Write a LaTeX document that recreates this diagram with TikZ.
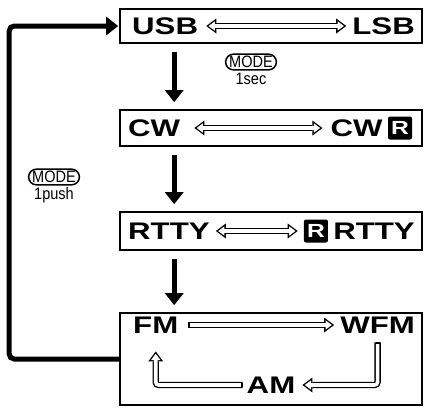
\documentclass[tikz,border=0pt]{standalone}
\usepackage{fontspec}
\setmainfont{Liberation Sans}[FakeStretch=1.3]
\newfontfamily\keyfont{Liberation Sans}[FakeStretch=0.88]
\usetikzlibrary{positioning,arrows.meta,shapes.misc}

\begin{document}
\begin{tikzpicture}[
    x=1pt, y=-1pt,
    band/.style={
        draw,
        line width=1.6pt,
        minimum width=302pt,
        minimum height=#1,
        inner sep=0pt
    },
    word/.style={font=\fontsize{24}{24}\selectfont\bfseries, inner sep=0pt},
    rbox/.style={
        fill=black,
        rounded corners=2pt,
        text=white,
        font=\fontsize{19}{19}\selectfont\bfseries,
        minimum width=24pt,
        minimum height=23pt,
        inner sep=0pt
    },
    key/.style={
        draw,
        rounded rectangle,
        line width=1.5pt,
        font=\keyfont\fontsize{16.5}{16.5}\selectfont,
        inner xsep=1pt,
        inner ysep=2pt
    },
    keynote/.style={font=\keyfont\fontsize{16.5}{16.5}\selectfont, inner sep=0pt},
    flow/.style={line width=5pt, -{Triangle[length=12pt,width=18pt]}, shorten <=8pt, shorten >=7pt},
    back/.style={line width=5pt, rounded corners=5pt, -{Triangle[length=12pt,width=18pt]}},
    swap/.style={
        draw=white, line width=3.6pt,
        {Triangle[length=6.3pt,width=9.4pt,line width=0pt,sep=2.3pt]}-{Triangle[length=6.3pt,width=9.4pt,line width=0pt,sep=2.3pt]},
        preaction={draw=black, line width=6.4pt,
            {Triangle[length=10pt,width=15pt,line width=0pt]}-{Triangle[length=10pt,width=15pt,line width=0pt]}}
    },
    turn/.style={
        draw=white, line width=3.6pt, rounded corners=3pt,
        {Rectangle[color=black,fill=black,length=1.4pt,width=4pt,line width=0pt]}-{Triangle[length=6.3pt,width=9.4pt,line width=0pt,sep=2.3pt]},
        preaction={draw=black, line width=6.4pt,
            -{Triangle[length=10pt,width=15pt,line width=0pt]}}
    }
]
\useasboundingbox (0,0) rectangle (424,408);

% mode bands
\node[band=34pt] (ssbbar) at (271,26) {};
\node[band=36pt] (cwbar) at (271,128) {};
\node[band=38pt] (rttybar) at (271,231) {};
\node[band=92pt] (fmbar) at (271,359) {};

% band contents
\node[word, anchor=west] (usb) at (132,26) {USB};
\node[word, anchor=east] (lsb) at (415,26) {LSB};
\node[word, anchor=west] (cw) at (128,128) {CW};
\node[rbox] (cwrev) at (400,128) {R};
\node[word, left=5pt of cwrev] (cwr) {CW};
\node[word, anchor=west] (rtty) at (128,231) {RTTY};
\node[word, anchor=east] (rttyr) at (415,231) {RTTY};
\node[rbox, left=5pt of rttyr] (rttyrev) {R};
\node[word, anchor=west] (fm) at (133,325) {FM};
\node[word, anchor=east] (wfm) at (415,325) {WFM};
\node[word] (am) at (271,385) {AM};

% key labels
\node[key] (key1) at (251,62) {MODE};
\node[keynote, below=2pt of key1] (sec) {1sec};
\node[key] (key2) at (54,177) {MODE};
\node[keynote, below=2pt of key2] (push) {1push};

% hollow arrows
\draw[swap, shorten <=8pt, shorten >=6pt] (usb.east) -- (lsb.west);
\draw[swap, shorten <=14pt, shorten >=8pt] (cw.east) -- (cwr.west);
\draw[swap, shorten <=6pt, shorten >=6pt] (rtty.east) -- (rttyrev.west);
\draw[turn, shorten <=10pt, shorten >=6pt] (fm.east) -- (wfm.west);
\draw[turn, shorten <=9pt, shorten >=7pt] (wfm.south) |- (am.east);
\draw[turn, shorten <=4pt, shorten >=18pt] (am.west) -| (fm.south);

% 1sec steps
\draw[flow] ([xshift=55pt]ssbbar.south west) -- ([xshift=55pt]cwbar.north west);
\draw[flow] ([xshift=55pt]cwbar.south west) -- ([xshift=55pt]rttybar.north west);
\draw[flow] ([xshift=55pt]rttybar.south west) -- ([xshift=55pt]fmbar.north west);

% 1push loop
\draw[back, shorten >=1pt] (fmbar.west) -- ++(-110,0) |- (ssbbar.west);

\end{tikzpicture}
\end{document}
